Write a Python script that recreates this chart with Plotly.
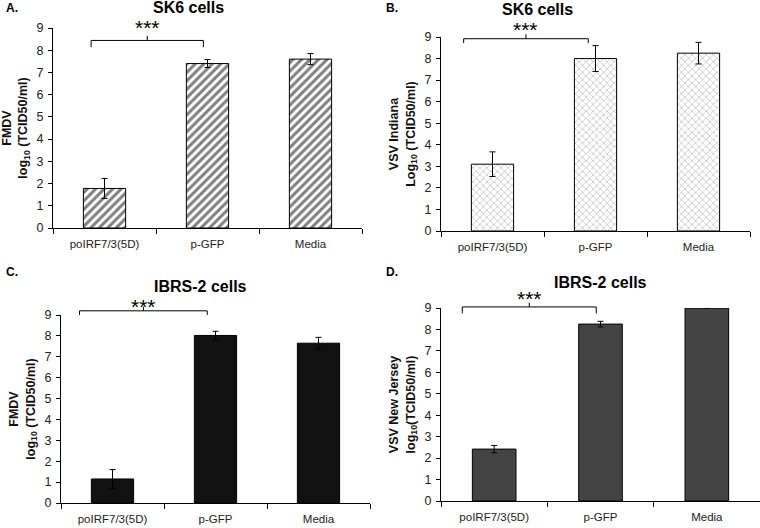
import plotly.graph_objects as go

categories = ["poIRF7/3(5D)", "p-GFP", "Media"]

a_vals = [1.78, 7.40, 7.60]
a_err = [0.45, 0.18, 0.25]
b_vals = [3.10, 8.00, 8.25]
b_err = [0.57, 0.60, 0.50]
c_vals = [1.15, 8.02, 7.65]
c_err = [0.45, 0.20, 0.28]
d_vals = [2.42, 8.25, 9.00]
d_err = [0.17, 0.13, 0]

yticks = list(range(0, 10))
YMAX = 9

FONT = "Arial, Liberation Sans, sans-serif"
W, H = 760, 528

fig = go.Figure()

# px boxes of each plot area: (left, right, top, bottom)
panels = [
    dict(vals=a_vals, err=a_err, box=(53, 362, 28, 228), color="white",
         pattern=dict(shape="/", fgcolor="black", bgcolor="white", size=6, solidity=0.5),
         ytitle="<b>FMDV<br>log<sub>10</sub> (TCID50/ml)</b>",
         title="SK6 cells", title_xy=(188, 8), label="A.", label_xy=(4, 8),
         bracket=(-0.13, 0.96, 8.14, 8.44), stars_top=9.58),
    dict(vals=b_vals, err=b_err, box=(441, 750, 37, 231), color="white",
         pattern=dict(shape="x", fgcolor="#555555", bgcolor="white", size=5, solidity=0.2),
         ytitle="<b>VSV Indiana<br>Log<sub>10</sub> (TCID50/ml)</b>",
         title="SK6 cells", title_xy=(537, 10), label="B.", label_xy=(384, 8),
         bracket=(-0.28, 0.93, 8.72, 8.92), stars_top=9.94),
    dict(vals=c_vals, err=c_err, box=(61, 370, 315, 503), color="#111111", pattern=None,
         ytitle="<b>FMDV<br>log<sub>10</sub> (TCID50/ml)</b>",
         title="IBRS-2 cells", title_xy=(200, 286), label="C.", label_xy=(4, 272),
         bracket=(-0.32, 0.92, 9.0, 9.2), stars_top=10.0),
    dict(vals=d_vals, err=d_err, box=(441, 760, 308, 501), color="#444444", pattern=None,
         ytitle="<b>VSV New Jersey<br>log<sub>10</sub>(TCID50/ml)</b>",
         title="IBRS-2 cells", title_xy=(600, 282), label="D.", label_xy=(384, 272),
         bracket=(-0.30, 0.96, 8.75, 9.05), stars_top=10.03),
]

layout = dict(
    width=W, height=H, margin=dict(l=0, r=0, t=0, b=0, autoexpand=False),
    paper_bgcolor="white", plot_bgcolor="white", showlegend=False,
    font=dict(family=FONT, size=11, color="#222222"),
    bargap=0.59,
)
shapes = []
annotations = []

for i, p in enumerate(panels):
    n = "" if i == 0 else str(i + 1)
    xa, ya = "x" + n, "y" + n
    l, r, t, b = p["box"]
    d0, d1 = 1 - b / H, 1 - t / H

    def yp(v):
        # value on the y axis -> paper fraction, so brackets above 9 are not clipped
        return d0 + v / YMAX * (d1 - d0)

    marker = dict(color=p["color"], line=dict(color="black", width=1))
    if p["pattern"]:
        marker["pattern"] = p["pattern"]
    err = dict(type="data", array=p["err"], visible=True, color="black", thickness=1, width=3)
    fig.add_trace(go.Bar(x=categories, y=p["vals"], marker=marker, error_y=err,
                         xaxis=xa, yaxis=ya, cliponaxis=False))
    layout["xaxis" + n] = dict(
        domain=[l / W, r / W], anchor=ya, type="category", showline=True,
        linecolor="black", linewidth=1, ticks="outside", tickson="boundaries",
        ticklen=5, tickcolor="black", showgrid=False, tickfont=dict(size=11.5),
        ticklabelstandoff=5, automargin=False,
    )
    layout["yaxis" + n] = dict(
        domain=[d0, d1], anchor=xa, range=[0, YMAX], tickvals=yticks,
        showline=True, linecolor="black", linewidth=1, ticks="outside", ticklen=4,
        tickcolor="black", showgrid=False, zeroline=False, tickfont=dict(size=12.5),
        ticklabelstandoff=2,
        title=dict(text=p["ytitle"], font=dict(size=12.5, color="#111111"), standoff=6),
        automargin=False,
    )
    x0, x1, yl, yh = p["bracket"]
    xm = (x0 + x1) / 2
    for (ax, ay, bx, by) in [(x0, yl, x0, yh), (x0, yh, x1, yh), (x1, yh, x1, yl),
                             (xm, yh, xm, yh + 0.2)]:
        shapes.append(dict(type="line", xref=xa, yref="paper", x0=ax, y0=yp(ay),
                           x1=bx, y1=yp(by), line=dict(color="black", width=1)))
    annotations.append(dict(x=xm, y=yp(p["stars_top"]), xref=xa, yref="paper",
                            text="***", showarrow=False, xanchor="center",
                            yanchor="top", borderpad=0, font=dict(size=21, color="black")))
    annotations.append(dict(x=p["title_xy"][0] / W, y=1 - p["title_xy"][1] / H,
                            xref="paper", yref="paper", text="<b>" + p["title"] + "</b>",
                            showarrow=False, xanchor="center", yanchor="middle",
                            borderpad=0, font=dict(size=16, color="black")))
    annotations.append(dict(x=p["label_xy"][0] / W, y=1 - p["label_xy"][1] / H,
                            xref="paper", yref="paper", text="<b>" + p["label"] + "</b>",
                            showarrow=False, xanchor="left", yanchor="middle",
                            font=dict(size=12, color="black")))

layout["shapes"] = shapes
layout["annotations"] = annotations
fig.update_layout(**layout)

# the page body has an 8px default margin; drop it so the figure fills the window
fig.write_html("out.html", config={"displayModeBar": False},
               post_script="document.body.style.margin='0';")
